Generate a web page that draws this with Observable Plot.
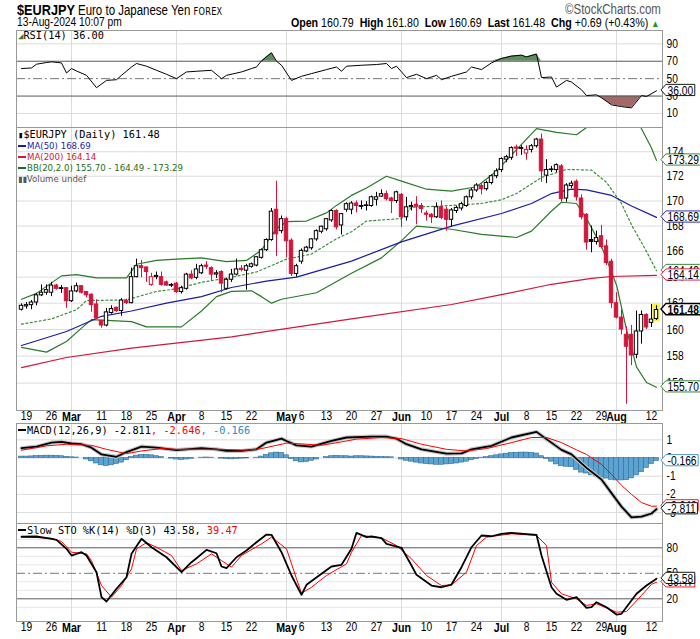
<!DOCTYPE html>
<html><head><meta charset="utf-8">
<script src="https://cdn.jsdelivr.net/npm/d3@7"></script>
<script src="https://cdn.jsdelivr.net/npm/@observablehq/plot@0.6"></script>
<style>
body{margin:0;background:#fff;width:700px;height:639px;position:relative;overflow:hidden;font-family:"Liberation Sans",Arial,sans-serif;color:#000}
.abs{position:absolute;white-space:nowrap}
.nl{transform:scaleX(0.82);transform-origin:0 0}
.nr{transform:scaleX(0.82);transform-origin:100% 0}
.leg{position:absolute;left:18px;white-space:nowrap;font-family:"DejaVu Sans Mono",monospace;font-size:10.3px;line-height:11px}
.legs{font-family:"DejaVu Sans",sans-serif;font-size:8.6px}
.dash{display:inline-block;width:8px;height:2px;vertical-align:middle;margin-right:1px;position:relative;top:-1px}
</style></head><body>
<script>
// ---------------- DATA ----------------
const dates = ["02-16","02-19","02-20","02-21","02-22","02-23","02-26","02-27","02-28","02-29",
"03-01","03-04","03-05","03-06","03-07","03-08","03-11","03-12","03-13","03-14","03-15","03-18","03-19","03-20","03-21","03-22","03-25","03-26","03-27","03-28","03-29",
"04-01","04-02","04-03","04-04","04-05","04-08","04-09","04-10","04-11","04-12","04-15","04-16","04-17","04-18","04-19","04-22","04-23","04-24","04-25","04-26","04-29","04-30",
"05-01","05-02","05-03","05-06","05-07","05-08","05-09","05-10","05-13","05-14","05-15","05-16","05-17","05-20","05-21","05-22","05-23","05-24","05-27","05-28","05-29","05-30","05-31",
"06-03","06-04","06-05","06-06","06-07","06-10","06-11","06-12","06-13","06-14","06-17","06-18","06-19","06-20","06-21","06-24","06-25","06-26","06-27","06-28",
"07-01","07-02","07-03","07-04","07-05","07-08","07-09","07-10","07-11","07-12","07-15","07-16","07-17","07-18","07-19","07-22","07-23","07-24","07-25","07-26","07-29","07-30","07-31",
"08-01","08-02","08-05","08-06","08-07","08-08","08-09","08-12","08-13"];

const open = [161.5,161.75,161.85,162.05,162.6,162.8,162.8,163.35,163.1,163.15,
162.15,162.9,163.3,162.85,162.65,161.9,160.65,160.3,161.25,161.65,
161.4,162.15,162.0,164.0,164.85,164.75,163.4,164.0,164.0,163.6,
163.35,163.5,162.85,163.1,164.2,163.95,164.3,164.9,164.7,164.2,
164.4,163.1,163.8,164.2,164.65,164.5,164.8,164.9,165.5,166.1,
166.9,169.3,167.6,168.55,166.85,164.25,165.2,166.0,166.25,166.95,
167.55,167.75,168.45,169.2,168.05,169.3,169.3,169.8,169.55,169.6,
169.6,170.1,170.35,170.55,170.2,170.0,170.5,168.7,169.5,169.7,
169.6,169.0,168.9,168.7,169.5,169.3,168.5,169.2,169.4,169.6,
170.3,170.85,171.2,170.95,171.45,172.0,172.5,173.35,173.5,174.35,
174.25,173.85,174.15,174.45,175.0,172.05,172.5,172.5,172.8,170.2,
171.2,171.55,170.2,168.9,166.9,166.75,167.2,166.4,165.2,162.0,
160.9,159.6,159.6,158.1,159.85,161.1,160.5,160.79];
const high = [161.95,162.05,162.2,162.75,163.4,163.4,163.6,163.45,163.35,163.2,
163.3,163.55,163.35,162.9,162.7,162.25,160.7,161.6,161.8,161.7,
162.35,162.3,164.7,165.4,165.3,164.8,164.3,164.4,164.4,163.7,
163.5,163.6,163.3,164.3,164.5,165.0,165.0,165.2,164.8,164.5,
164.5,163.9,164.6,165.4,164.9,165.0,165.1,165.6,166.2,167.0,
169.4,171.6,168.8,168.7,167.0,165.0,166.2,166.4,167.0,167.7,
168.0,168.6,169.3,169.3,169.0,169.85,169.95,170.0,170.0,169.95,
170.4,170.7,170.9,170.8,170.3,170.8,170.6,170.3,169.9,170.35,
169.8,169.2,169.0,169.85,170.0,169.5,169.4,169.6,169.9,170.4,
171.0,171.4,171.4,171.6,172.1,172.6,173.5,173.7,174.4,174.55,
174.5,174.5,174.6,175.1,175.45,173.35,172.8,173.0,172.95,171.4,
171.6,171.7,170.5,169.0,168.0,167.6,168.05,166.9,165.4,162.8,
161.5,160.2,160.3,161.4,161.4,161.2,161.9,161.8];
const low = [161.4,161.55,161.5,161.8,162.5,162.6,162.5,163.0,162.75,161.6,
162.05,162.8,162.7,162.4,161.3,160.75,160.1,160.2,161.15,161.3,
161.0,161.9,161.95,163.95,163.95,163.6,163.3,163.8,163.3,163.3,
163.2,162.75,162.7,163.0,163.8,163.8,164.2,164.6,163.7,163.9,
162.8,163.0,163.6,164.1,164.4,163.0,164.7,164.8,165.4,166.0,
166.8,165.6,167.4,165.5,164.05,164.0,165.0,165.9,166.1,166.8,
167.4,167.6,168.3,167.7,167.3,169.1,168.9,169.05,169.3,169.2,
169.5,169.6,170.3,170.0,169.0,169.8,167.9,168.4,169.2,168.1,
169.0,168.4,168.2,168.6,168.5,167.6,167.95,169.0,169.2,169.5,
170.1,170.7,170.5,170.8,171.3,171.8,172.3,173.1,173.3,173.6,
173.7,173.3,173.9,174.3,171.5,171.4,172.3,172.3,169.9,169.9,
171.0,170.0,168.5,166.1,165.9,166.5,166.2,164.9,161.6,160.8,
159.6,154.45,157.3,157.8,158.9,160.0,160.15,160.69];
const close = [161.8,161.85,162.05,162.6,162.8,163.0,163.35,163.1,163.15,162.15,
162.9,163.3,162.8,162.6,161.85,160.85,160.3,161.3,161.55,161.4,
162.2,162.0,164.0,164.85,164.7,164.4,164.0,164.1,163.4,163.35,
163.4,162.85,163.15,164.2,163.9,164.6,164.85,164.8,164.2,164.3,
163.5,163.8,164.2,164.6,164.55,164.85,165.0,165.55,166.1,166.9,
169.15,167.35,168.55,166.8,164.25,164.85,166.05,166.3,166.95,167.6,
167.95,168.55,169.2,167.9,168.95,169.75,169.8,169.6,169.6,169.65,
170.3,170.3,170.55,170.15,170.0,170.7,168.7,169.5,169.6,169.55,
169.35,168.9,168.7,169.5,168.65,168.5,169.25,169.45,169.75,170.3,
170.85,171.25,170.95,171.45,172.0,172.4,173.4,173.55,174.3,174.25,
174.3,174.15,174.45,175.0,172.4,172.5,172.55,172.9,170.15,171.25,
171.4,170.3,168.7,166.7,166.75,167.05,166.35,165.1,162.0,160.9,
160.0,158.7,158.05,159.85,161.1,160.15,160.75,161.48];

// overlays: [day index, value]
const ma50 = [[0,158.8],[9,159.85],[16,161.0],[22,161.4],[29,162.0],[36,162.5],[42,163.2],[49,163.7],[55,164.0],[66,165.25],[76,166.75],[86,168.0],[96,169.0],[102,169.8],[106,170.6],[110,170.95],[113,170.9],[118,170.45],[122,169.6],[127,168.69]];
const ma200 = [[0,157.15],[9,157.9],[22,158.6],[42,159.45],[66,160.8],[86,161.9],[96,162.65],[106,163.45],[114,163.9],[118,164.05],[127,164.14]];
const bbUpper = [[0,162.3],[3,162.75],[8,164.1],[11,164.2],[15,163.95],[21,163.95],[23,165.0],[27,165.3],[31,165.4],[36,165.5],[41,165.2],[45,165.3],[48,166.1],[51,167.8],[53,168.35],[57,168.4],[61,169.05],[63,169.65],[66,170.45],[69,171.05],[73,172.0],[76,171.6],[81,170.95],[86,170.8],[91,171.15],[95,172.4],[97,173.3],[100,174.6],[103,175.9],[107,175.6],[111,175.4],[113,176.0],[116,176.9],[119,177.6],[122,177.3],[124,175.9],[126,174.3],[127,173.29]];
const bbMiddle = [[0,160.4],[6,160.8],[11,161.5],[13,162.2],[21,162.25],[27,162.9],[31,163.1],[36,163.6],[42,164.0],[47,164.4],[53,165.4],[58,165.8],[63,167.0],[66,167.55],[69,168.4],[76,168.6],[78,169.5],[84,169.6],[92,169.8],[96,170.1],[99,170.6],[104,171.9],[109,172.55],[114,172.5],[117,171.5],[120,169.8],[122,168.1],[125,166.0],[127,164.49]];
const bbLower = [[0,158.65],[5,158.3],[9,159.1],[12,160.1],[14,160.75],[22,160.6],[25,160.2],[32,160.2],[36,161.4],[39,162.5],[42,162.9],[46,162.95],[48,162.5],[50,162.0],[52,162.3],[59,162.8],[66,164.3],[72,165.5],[76,166.85],[79,168.0],[86,167.75],[92,167.35],[99,167.1],[102,167.6],[106,169.2],[108,169.9],[111,169.8],[113,168.6],[116,166.4],[119,163.4],[121,160.0],[123,157.2],[125,156.05],[127,155.7]];

const rsi = [[0,61.6],[2,62.3],[3,66.6],[5,68.5],[6,69.3],[8,68.1],[9,56.5],[10,61.6],[11,58.8],[13,53.8],[15,39.6],[17,48],[19,48.8],[20,53.8],[22,63.4],[23,67.4],[25,64.3],[27,59.6],[29,55],[31,50],[33,57.7],[35,58.5],[38,59.6],[40,50],[41,53.8],[44,57.7],[46,61.6],[47,63.4],[48,70.4],[50,79.7],[51,70],[52,65.4],[54,48],[56,52.7],[58,55.8],[61,60.4],[63,63.4],[64,58.5],[65,64.3],[68,65.4],[71,66.2],[73,67.4],[74,61.6],[75,64.3],[77,51.2],[79,55],[81,50],[83,53.8],[84,48.8],[86,52.7],[89,57.7],[90,63.4],[92,60.4],[94,68.1],[96,73.2],[98,75.9],[100,77],[101,75],[103,78.2],[104,51.2],[106,51.9],[107,40.3],[109,48],[110,46.1],[112,37.2],[113,30.6],[115,31.4],[116,28],[118,19.9],[120,17.9],[122,16.4],[124,30.6],[125,29.5],[127,36.0]];

const macd = [[0,0.54],[3,0.63],[6,0.85],[8,0.89],[10,0.8],[12,0.76],[14,0.57],[16,0.2],[19,0.07],[21,0.33],[24,0.63],[27,0.57],[31,0.44],[33,0.48],[36,0.54],[39,0.48],[41,0.39],[44,0.39],[47,0.48],[49,0.85],[52,1.07],[53,0.94],[55,0.7],[58,0.63],[62,0.94],[65,1.13],[70,1.18],[73,1.18],[75,1.07],[77,0.76],[80,0.48],[85,0.24],[88,0.26],[90,0.48],[94,0.67],[98,1.13],[103,1.44],[105,1.04],[108,0.45],[110,0.2],[113,-0.54],[116,-1.18],[118,-1.93],[120,-2.67],[122,-3.26],[124,-3.22],[126,-3.05],[127,-2.811]];
const macdSignal = [[0,0.43],[5,0.67],[9,0.76],[14,0.7],[17,0.48],[21,0.24],[24,0.39],[28,0.52],[31,0.48],[36,0.48],[40,0.48],[45,0.43],[48,0.52],[53,0.82],[57,0.76],[60,0.7],[64,0.89],[67,1.04],[72,1.13],[76,1.07],[80,0.76],[85,0.48],[89,0.39],[93,0.52],[98,0.85],[102,1.13],[105,1.13],[108,0.85],[111,0.45],[113,0.2],[116,-0.35],[118,-0.9],[120,-1.5],[122,-2.0],[124,-2.45],[126,-2.65],[127,-2.646]];
const macdHist = [0.08,0.08,0.09,0.11,0.12,0.13,0.13,0.12,0.10,0.07,
0.04,0.03,0.0,-0.08,-0.18,-0.30,-0.40,-0.44,-0.40,-0.33,
-0.25,-0.12,0.05,0.13,0.17,0.18,0.15,0.10,0.05,0.0,
-0.03,-0.08,-0.10,-0.08,-0.04,0.0,0.02,0.03,0.02,0.0,
-0.03,-0.06,-0.07,-0.05,-0.03,-0.02,0.0,0.02,0.08,0.18,
0.26,0.30,0.28,0.15,-0.05,-0.18,-0.24,-0.22,-0.15,-0.08,
0.0,0.05,0.10,0.12,0.10,0.10,0.08,0.10,0.10,0.09,
0.08,0.07,0.06,0.05,0.04,0.0,-0.08,-0.15,-0.20,-0.25,
-0.30,-0.33,-0.35,-0.37,-0.37,-0.35,-0.33,-0.30,-0.25,-0.20,
-0.12,-0.05,0.02,0.05,0.10,0.15,0.20,0.24,0.27,0.29,
0.30,0.30,0.28,0.25,0.10,-0.05,-0.20,-0.35,-0.45,-0.48,
-0.50,-0.65,-0.80,-0.85,-0.95,-1.02,-1.07,-1.13,-1.20,-1.23,
-1.23,-1.22,-1.12,-0.95,-0.78,-0.55,-0.33,-0.166];

const stoK = [[0,93],[3,93.3],[6,90.6],[7,89.4],[9,78.8],[10,70.9],[12,74.8],[13,70.9],[15,51.3],[16,21.9],[17,16.8],[19,31.8],[21,45.4],[22,72.9],[24,90.6],[26,80.7],[29,68.9],[32,51.3],[34,63.1],[35,67.8],[37,77.6],[39,73.6],[40,58],[41,56],[43,68.9],[45,76.8],[47,86.6],[49,95.6],[50,95.3],[52,74.8],[54,47.4],[56,24.7],[57,36.5],[60,49.4],[62,58],[64,60],[66,78.8],[67,97.6],[69,92.5],[70,93.3],[72,91.3],[73,84.7],[76,80],[78,59.2],[79,48.2],[82,35.6],[84,33.6],[86,36.8],[88,57.2],[90,80.7],[92,94.5],[94,93.6],[96,96.5],[98,97.6],[103,95.3],[104,70.9],[106,33.6],[107,25.9],[109,18.8],[111,21.9],[113,9.4],[114,10.1],[115,16],[117,10.1],[119,1.5],[120,2.4],[123,25.9],[125,35.6],[127,43.58]];
const stoD = [[0,93],[6,91.2],[8,87.4],[10,74.8],[13,72.9],[14,65],[16,35.6],[18,21.9],[20,35.6],[22,55.2],[23,78.8],[25,86],[27,80.7],[30,70.9],[32,53.2],[35,61.1],[38,72.9],[40,65],[42,57.2],[44,70.9],[48,84.7],[50,92.5],[53,78.8],[55,43.5],[56,26.6],[58,33.6],[61,47.4],[65,61.1],[66,74.8],[68,94.5],[72,91.7],[75,82.7],[78,67],[81,47.4],[84,35.6],[86,36.4],[89,51.3],[91,82.7],[93,92.5],[98,96.5],[103,94.5],[105,82.7],[106,39.4],[108,25.9],[111,20],[113,12.2],[115,14.1],[119,4.3],[121,5],[124,24],[126,37.1],[127,39.47]];

// axes
const priceTicks = [156,158,160,162,164,166,168,170,172,174];
const rsiTicks = [90,70,50,30,10];
const macdTicks = [1,0,-1,-2,-3];
const stoTicks = [80,50,20];
const monthStarts = [10,31,53,76,96,119];
const xTickIndex = [1,6,10,16,21,26,31,36,41,46,53,56,61,66,71,76,81,86,91,96,101,106,111,116,119,126];
const xTickText = ["19","26","Mar","11","18","25","Apr","8","15","22","May","6","13","20","27","Jun","10","17","24","Jul","8","15","22","29","Aug","12"];

// ---------------- DRAWING ----------------
const SANS = '"Liberation Sans",Arial,sans-serif';
const RED = "#d3153c", NAVY = "#1c1ca0", GREEN = "#287a28", GRID = "#dcdcdc", BLUE = "#3b8fc4";
const X = d => d[0], Y = d => d[1];
const base = {width:700, marginLeft:16, marginRight:38, marginTop:0,
  x:{domain:[-1,128.2], axis:null},
  style:{fontFamily:SANS, fontSize:"12.5px", background:"transparent", overflow:"visible", color:"#000"}};
const tickText = (ticks, fmt=String) => Plot.text(ticks, {y:d=>d, text:fmt, frameAnchor:"right", textAnchor:"start", dx:4, fontFamily:SANS, fontSize:12.5, fill:"#000"});
const valText = (v, txt, extra={}) => Plot.text([v], {y:d=>d, text:()=>txt, frameAnchor:"right", textAnchor:"start", dx:5, fontFamily:SANS, fontSize:12.5, fill:"#000", ...extra});
const monthRules = () => Plot.ruleX(monthStarts, {stroke:GRID});
const xTicks = xTickIndex.map((i,k)=>({i, t:xTickText[k], m:/^[A-Z]/.test(xTickText[k])}));
const xLabelMarks = () => [
  Plot.text(xTicks.filter(d=>!d.m), {x:"i", text:"t", frameAnchor:"bottom", lineAnchor:"top", dy:1, fontFamily:SANS, fontSize:12.5, fill:"#000"}),
  Plot.text(xTicks.filter(d=>d.m), {x:"i", text:"t", frameAnchor:"bottom", lineAnchor:"top", dy:1, fontFamily:SANS, fontSize:13, fontWeight:"bold", fill:"#000"})
];

function place(svg, top){ const d=document.createElement("div"); d.style.cssText=`position:absolute;left:0;top:${top}px`; d.appendChild(svg); document.body.appendChild(d); return svg; }
// condense SVG texts horizontally (narrow-font look)
function narrow(svg){
  svg.querySelectorAll("text").forEach(t=>{
    const tr = t.getAttribute("transform") || "";
    t.setAttribute("transform", (tr + " scale(0.82,1)").trim());
  });
}
function boxes(svg, spec){
  svg.querySelectorAll("text").forEach(t=>{
    const s = spec[t.textContent]; if(!s) return;
    const b = t.getBBox();
    const cy = b.y + b.height/2 - 0.5, h = 5.6;
    const x0 = b.x - 2, x1 = b.x + b.width + 2;
    const p = document.createElementNS("http://www.w3.org/2000/svg","path");
    p.setAttribute("d", `M${x0-6},${cy}L${x0},${cy-h}H${x1}V${cy+h}H${x0}Z`);
    p.setAttribute("fill","#fff"); p.setAttribute("stroke", s.c); p.setAttribute("stroke-width", s.w||1);
    const tr = t.getAttribute("transform"); if(tr) p.setAttribute("transform", tr);
    t.parentNode.insertBefore(p, t);
  });
}
const last = a => a[a.length-1][1];
const f2 = v => v.toFixed(2);

// RSI panel
const rsiSvg = place(Plot.plot({...base, height:97, marginBottom:0, y:{domain:[-6.1,105.3], axis:null}, marks:[
  Plot.ruleY([10,90], {stroke:GRID}),
  monthRules(),
  Plot.areaY(rsi, {x:X, y1:70, y2:d=>Math.max(70,d[1]), fill:"#5e8e5e"}),
  Plot.areaY(rsi, {x:X, y1:d=>Math.min(30,d[1]), y2:30, fill:"#a26a66"}),
  Plot.ruleY([70,30], {stroke:"#5a5a5a"}),
  Plot.ruleY([50], {stroke:"#777", strokeDasharray:"9,3,2,3"}),
  Plot.line(rsi, {x:X, y:Y, stroke:"#000", strokeWidth:1}),
  Plot.frame({stroke:"#999"}),
  tickText(rsiTicks),
  valText(last(rsi), f2(last(rsi)))
]}), 30);
narrow(rsiSvg);
boxes(rsiSvg, {[f2(last(rsi))]:{c:"#000"}});

// Price panel
const rows = close.map((c,i)=>({i, o:open[i], h:high[i], l:low[i], c, pc: i? close[i-1] : open[i]}));
const col = d => d.c >= d.pc ? "#000" : RED;
const lastRow = rows[rows.length-1];
const priceSvg = place(Plot.plot({...base, height:296, marginBottom:13, y:{type:"log", domain:[154,176], axis:null}, marks:[
  Plot.ruleY(priceTicks, {stroke:GRID}),
  monthRules(),
  Plot.rect([lastRow], {x1:d=>d.i-0.75, x2:d=>d.i+0.75, y1:d=>d.l-0.12, y2:d=>d.h+0.12, fill:"#f5f542"}),
  Plot.line(bbUpper, {x:X, y:Y, stroke:GREEN, strokeWidth:1.2, clip:true}),
  Plot.line(bbLower, {x:X, y:Y, stroke:GREEN, strokeWidth:1.2, clip:true}),
  Plot.line(bbMiddle, {x:X, y:Y, stroke:"#3c8c3c", strokeWidth:1.2, strokeDasharray:"2,2.5", clip:true}),
  Plot.line(ma200, {x:X, y:Y, stroke:RED, strokeWidth:1.2}),
  Plot.line(ma50, {x:X, y:Y, stroke:NAVY, strokeWidth:1.2}),
  Plot.ruleX(rows, {x:"i", y1:"l", y2:"h", stroke:col, strokeWidth:1}),
  Plot.rect(rows, {x1:d=>d.i-0.34, x2:d=>d.i+0.34, y1:d=>Math.min(d.o,d.c), y2:d=>Math.max(d.o,d.c), fill:d=> d.c>d.o ? "#fff" : col(d), stroke:col, strokeWidth:1}),
  Plot.ruleY(rows.filter(d=>Math.abs(d.o-d.c)<0.08), {y:"c", x1:d=>d.i-0.45, x2:d=>d.i+0.45, stroke:col}),
  Plot.frame({stroke:"#999"}),
  tickText(priceTicks),
  valText(last(bbUpper), f2(last(bbUpper))),
  valText(last(ma50), f2(last(ma50))),
  valText(last(bbLower), f2(last(bbLower))),
  valText(last(bbMiddle), f2(last(bbMiddle))),
  valText(last(ma200), f2(last(ma200))),
  valText(lastRow.c, f2(lastRow.c), {fontWeight:"bold"}),
  ...xLabelMarks()
]}), 127);
narrow(priceSvg);
boxes(priceSvg, {[f2(last(bbUpper))]:{c:GREEN},[f2(last(ma50))]:{c:NAVY},[f2(last(bbLower))]:{c:GREEN},[f2(last(bbMiddle))]:{c:GREEN},[f2(last(ma200))]:{c:RED},[f2(lastRow.c)]:{c:"#000",w:1.6}});

// MACD panel
const histRows = macdHist.map((v,i)=>[i,v]);
const macdSvg = place(Plot.plot({...base, height:100, marginBottom:0, y:{domain:[-3.6,1.9], axis:null}, marks:[
  Plot.ruleY(macdTicks, {stroke:GRID}),
  monthRules(),
  Plot.rect(histRows, {x1:d=>d[0]-0.5, x2:d=>d[0]+0.5, y1:0, y2:Y, fill:"#5ba4d2", stroke:"#2c6c98", strokeWidth:0.6}),
  Plot.line(macd, {x:X, y:Y, stroke:"#c4c4c4", strokeWidth:4}),
  Plot.line(macd, {x:X, y:Y, stroke:"#000", strokeWidth:1.8}),
  Plot.line(macdSignal, {x:X, y:Y, stroke:"#ff0000", strokeWidth:1}),
  Plot.frame({stroke:"#999"}),
  tickText(macdTicks),
  valText(last(macdSignal), last(macdSignal).toFixed(3)),
  valText(last(macd), last(macd).toFixed(3)),
  valText(macdHist[macdHist.length-1], macdHist[macdHist.length-1].toFixed(3))
]}), 423);
narrow(macdSvg);
boxes(macdSvg, {[last(macdSignal).toFixed(3)]:{c:"#ff0000"},[last(macd).toFixed(3)]:{c:"#000"},[macdHist[macdHist.length-1].toFixed(3)]:{c:BLUE}});

// Slow stochastic panel
const stoSvg = place(Plot.plot({...base, height:116, marginBottom:18, y:{domain:[-6.7,108.6], axis:null}, marks:[
  Plot.ruleY([10,30,40,60,70,90], {stroke:"#e6e6e6"}),
  monthRules(),
  Plot.ruleY([80,20], {stroke:"#5a5a5a"}),
  Plot.ruleY([50], {stroke:"#777", strokeDasharray:"9,3,2,3"}),
  Plot.line(stoD, {x:X, y:Y, stroke:"#ff0000", strokeWidth:1}),
  Plot.line(stoK, {x:X, y:Y, stroke:"#000", strokeWidth:1.8}),
  Plot.frame({stroke:"#999"}),
  tickText(stoTicks),
  valText(last(stoD), f2(last(stoD))),
  valText(last(stoK), f2(last(stoK))),
  ...xLabelMarks()
]}), 523);
narrow(stoSvg);
boxes(stoSvg, {[f2(last(stoD))]:{c:"#ff0000"},[f2(last(stoK))]:{c:"#000"}});

// ---------------- TEXT OVERLAYS ----------------
const html = `
<div class="abs nl" style="left:17px;top:1px;font-weight:bold;font-size:15.5px;line-height:17px">$EURJPY</div>
<div class="abs nl" style="left:78px;top:3px;font-size:14px;line-height:14px">Euro to Japanese Yen <span style="font-family:'DejaVu Sans';font-size:10px;letter-spacing:0.3px">FOREX</span></div>
<div class="abs nr" style="right:39px;top:2px;font-size:14px;line-height:14px;color:#555">©StockCharts.com</div>
<div class="abs nl" style="left:17px;top:16px;font-size:12.5px;line-height:13px">13-Aug-2024 10:07 pm</div>
<div class="abs nr" style="right:41px;top:16px;font-size:13px;line-height:13px"><b>Open</b> 160.79 &nbsp;<b>High</b> 161.80 &nbsp;<b>Low</b> 160.69 &nbsp;<b>Last</b> 161.48 &nbsp;<b>Chg</b> +0.69 (+0.43%) <span style="color:#1a9a1a;font-size:10px">▲</span></div>
<div class="leg" style="top:30px"><span style="color:#3a7a3a;font-size:9px">◢</span>RSI(14) ${f2(last(rsi))}</div>
<div class="leg" style="top:129px">
 <div><span style="font-size:9px">▮</span>$EURJPY (Daily) ${f2(lastRow.c)}</div>
 <div class="legs" style="color:${NAVY}"><span class="dash" style="background:${NAVY}"></span>MA(50) ${f2(last(ma50))}</div>
 <div class="legs" style="color:${RED}"><span class="dash" style="background:${RED}"></span>MA(200) ${f2(last(ma200))}</div>
 <div class="legs" style="color:#1e6e1e"><span class="dash" style="background:#1e6e1e"></span>BB(20,2.0) ${f2(last(bbLower))} - ${f2(last(bbMiddle))} - ${f2(last(bbUpper))}</div>
 <div class="legs" style="color:#555"><span style="font-size:8px">▮▮</span>Volume undef</div>
</div>
<div class="leg" style="top:425px"><span class="dash" style="background:#000"></span>MACD(12,26,9) ${last(macd).toFixed(3)}<span style="color:#f00">, ${last(macdSignal).toFixed(3)}</span><span style="color:#2a8cc8">, ${macdHist[macdHist.length-1].toFixed(3)}</span></div>
<div class="leg" style="top:525px"><span class="dash" style="background:#000"></span>Slow STO %K(14) %D(3) ${f2(last(stoK))}, <span style="color:#f00">${f2(last(stoD))}</span></div>
`;
const wrap = document.createElement("div"); wrap.innerHTML = html;
while (wrap.firstChild) document.body.appendChild(wrap.firstChild);
</script>
</body></html>
